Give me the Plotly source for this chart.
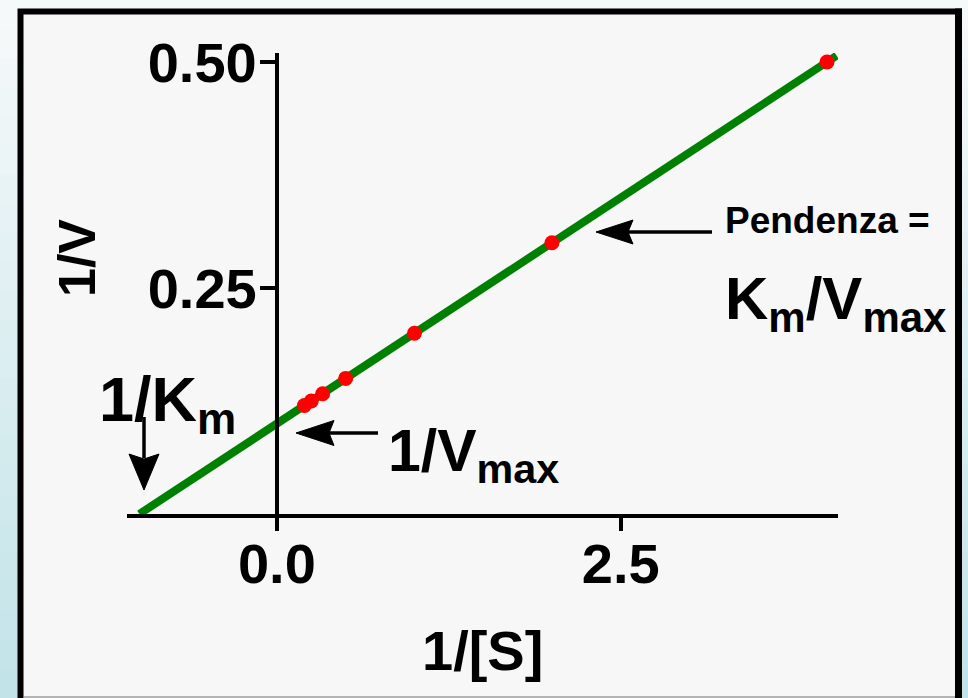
import plotly.graph_objects as go

# ---- data ----
inv_S = [0.2, 0.25, 0.333, 0.5, 1.0, 2.0, 4.0]          # 1/[S]
inv_V = [0.12, 0.125, 0.133, 0.15, 0.2, 0.3, 0.5]       # 1/V
fit_x = [-1.0, 4.07]                                    # regression line ends
fit_y = [0.0, 0.507]
x_tickvals = [0.0, 2.5]
x_ticktext = ["0.0", "2.5"]
y_tickvals = [0.25, 0.5]
y_ticktext = ["0.25", "0.50"]

# ---- layout geometry ----
W, H = 968, 698
L, R, T, B = 127, 130, 53, 184
X_RANGE = [-1.09, 4.08]
Y_RANGE = [0.0, 0.51]
PW, PH = W - L - R, H - T - B
FONT = "Liberation Sans, Arial, sans-serif"


def px(x):
    return (x - L) / PW


def py(y):
    return (H - B - y) / PH


def path(points):
    return "M" + " L".join("%.5f,%.5f" % (px(a), py(b)) for a, b in points) + " Z"


fig = go.Figure()
fig.add_trace(go.Scatter(x=fit_x, y=fit_y, mode="lines",
                         line=dict(color="#008000", width=8),
                         hoverinfo="skip", showlegend=False))
fig.add_trace(go.Scatter(x=inv_S, y=inv_V, mode="markers",
                         marker=dict(color="#ff0000", size=15),
                         showlegend=False))

# background gradient bands + framed panel
shapes = []
n = 24
c0 = (0xf6, 0xf9, 0xfa)
c1 = (0xc2, 0xe3, 0xe8)
for i in range(n):
    f = i / (n - 1)
    col = "rgb(%d,%d,%d)" % tuple(round(a + (b - a) * f) for a, b in zip(c0, c1))
    shapes.append(dict(type="rect", xref="paper", yref="paper",
                       x0=px(0), x1=px(W), y0=py(H * i / n), y1=py(H * (i + 1) / n + 1),
                       fillcolor=col, line=dict(width=0), layer="below"))
shapes.append(dict(type="rect", xref="paper", yref="paper",
                   x0=px(20.5), x1=px(959), y0=py(11.5), y1=py(720),
                   fillcolor="#f7f7f7", line=dict(color="black", width=6), layer="below"))
# right edge of the frame as a solid filled bar
shapes.append(dict(type="rect", xref="paper", yref="paper",
                   x0=px(955), x1=px(962), y0=py(8.5), y1=py(698),
                   fillcolor="black", line=dict(width=0), layer="above"))
shapes.append(dict(type="line", xref="paper", yref="paper",
                   x0=px(24), x1=px(955), y0=py(697), y1=py(697),
                   line=dict(color="#b4b4b4", width=2), layer="below"))

# arrows (shaft + notched triangular head)
AW = 3.5
arrow_shafts = [((144, 417), (144, 458)), ((329, 433), (378, 433)), ((628, 232), (712, 232))]
for (a, b) in arrow_shafts:
    shapes.append(dict(type="line", xref="paper", yref="paper",
                       x0=px(a[0]), y0=py(a[1]), x1=px(b[0]), y1=py(b[1]),
                       line=dict(color="black", width=AW), layer="above"))
heads = [
    [(144, 490), (129, 454), (144, 459), (159, 454)],
    [(296, 433), (334, 420.5), (329, 433), (334, 445.5)],
    [(596, 232), (633, 220), (628, 232), (633, 244)],
]
for h in heads:
    shapes.append(dict(type="path", xref="paper", yref="paper", path=path(h),
                       fillcolor="black", line=dict(color="black", width=1), layer="above"))

BIG = 56
annotations = [
    # axis titles
    dict(xref="paper", yref="paper", x=px(77), y=py(258), text="1/V", showarrow=False,
         textangle=-90, font=dict(family=FONT, size=52, color="black", weight="bold"),
         xanchor="center", yanchor="middle"),
    dict(xref="paper", yref="paper", x=px(482), y=py(650), text="1/[S]", showarrow=False,
         font=dict(family=FONT, size=BIG, color="black", weight="bold"),
         xanchor="center", yanchor="middle"),
    # 1/Km
    dict(xref="paper", yref="paper", x=px(97), y=py(403), text="1/K<sub>m</sub>",
         showarrow=False, font=dict(family=FONT, size=63, color="black", weight="bold"),
         xanchor="left", yanchor="middle"),
    # 1/Vmax
    dict(xref="paper", yref="paper", x=px(386), y=py(455), text="1/V<sub>max</sub>",
         showarrow=False, font=dict(family=FONT, size=59, color="black", weight="bold"),
         xanchor="left", yanchor="middle"),
    # slope
    dict(xref="paper", yref="paper", x=px(723), y=py(221), text="Pendenza =",
         showarrow=False, font=dict(family=FONT, size=37, color="black", weight="bold"),
         xanchor="left", yanchor="middle"),
    dict(xref="paper", yref="paper", x=px(723), y=py(303), text="K<sub>m</sub>/V<sub>max</sub>",
         showarrow=False, font=dict(family=FONT, size=60, color="black", weight="bold"),
         xanchor="left", yanchor="middle"),
]

fig.update_layout(
    width=W, height=H,
    margin=dict(l=L, r=R, t=T, b=B),
    paper_bgcolor="#f7f7f7",
    plot_bgcolor="rgba(0,0,0,0)",
    shapes=shapes,
    annotations=annotations,
    xaxis=dict(range=X_RANGE, showgrid=False, zeroline=False,
               showline=True, linecolor="black", linewidth=4,
               ticks="outside", ticklen=13, tickwidth=4, tickcolor="black",
               tickvals=x_tickvals, ticktext=x_ticktext, ticklabelstandoff=-15,
               tickfont=dict(family=FONT, size=BIG, color="black", weight="bold")),
    yaxis=dict(range=Y_RANGE, showgrid=False, zeroline=False,
               anchor="free",
               position=(0 - X_RANGE[0]) / (X_RANGE[1] - X_RANGE[0]),
               showline=True, linecolor="black", linewidth=4,
               ticks="outside", ticklen=15, tickwidth=4, tickcolor="black",
               tickvals=y_tickvals, ticktext=y_ticktext, ticklabelstandoff=-8,
               tickfont=dict(family=FONT, size=BIG, color="black", weight="bold")),
)

fig.write_html(
    "out.html", config={"displayModeBar": False},
    post_script=("document.body.style.margin='0px';"
                 "document.body.style.overflow='hidden';"
                 "document.documentElement.style.overflow='hidden';"))
